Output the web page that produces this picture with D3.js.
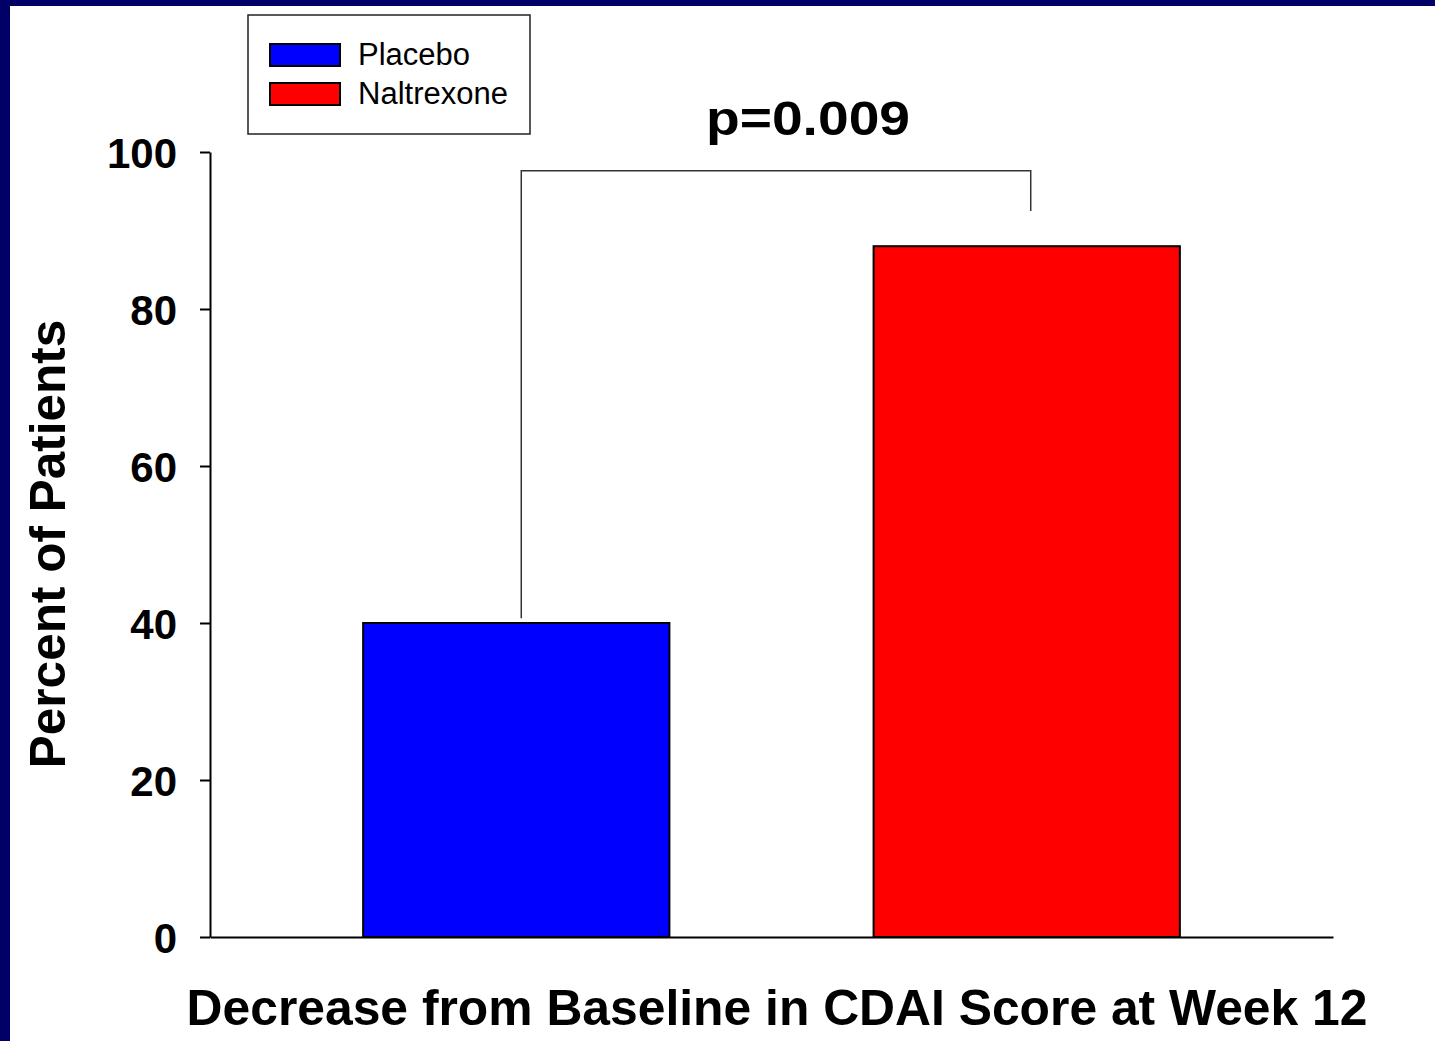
<!DOCTYPE html>
<html>
<head>
<meta charset="utf-8">
<script src="https://cdn.jsdelivr.net/npm/d3@7"></script>
<style>
  html, body { margin: 0; padding: 0; background: #ffffff; }
  svg { display: block; }
  text { font-family: Arial, "Liberation Sans", Helvetica, sans-serif; }
</style>
</head>
<body>
<script>
// Response at week 12 (percent of patients)
const groups = ["Placebo", "Naltrexone"];
const percents = [40, 88];
const colors = ["#0000ff", "#ff0000"];
const yTicks = [0, 20, 40, 60, 80, 100];

// Significance bracket: top level and the two leg ends (in percent units)
const bracketTop = [97.6];
const bracketLegEnds = [40.6, 92.5];
const pLabel = ["p=0.009"];

const W = 1435, H = 1041;
const svg = d3.select("body").append("svg")
  .attr("width", W).attr("height", H);

// slide background with navy frame on top and left
svg.append("rect").attr("x", 0).attr("y", 0).attr("width", W).attr("height", H).attr("fill", "#000066");
svg.append("rect").attr("x", 10).attr("y", 6).attr("width", W - 10).attr("height", H - 6).attr("fill", "#ffffff");

const x = d3.scaleBand().domain(groups).range([210, 1333]).paddingInner(0.4).paddingOuter(0.3);
const y = d3.scaleLinear().domain([0, 100]).range([937, 152]);

// bars
svg.append("g").selectAll("rect").data(groups).join("rect")
  .attr("x", d => x(d))
  .attr("y", (d, i) => y(percents[i]))
  .attr("width", x.bandwidth())
  .attr("height", (d, i) => y(0) - y(percents[i]))
  .attr("fill", (d, i) => colors[i])
  .attr("stroke", "#000")
  .attr("stroke-width", 2);

// y axis
const yAxis = svg.append("g").attr("transform", "translate(210,0)")
  .call(d3.axisLeft(y).tickValues(yTicks).tickFormat(d3.format("d"))
    .tickSizeInner(10).tickSizeOuter(0).tickPadding(23));
yAxis.select(".domain").attr("stroke", "#000").attr("stroke-width", 2);
yAxis.selectAll(".tick line").attr("stroke", "#000").attr("stroke-width", 2);
yAxis.selectAll(".tick text")
  .attr("font-size", 42).attr("font-weight", "bold").attr("fill", "#000")
  .attr("font-family", "Arial, 'Liberation Sans', sans-serif")
  .attr("dy", "0.36em");

// x axis (baseline only)
const xAxis = svg.append("g").attr("transform", "translate(0,937)")
  .call(d3.axisBottom(x).tickSize(0).tickSizeOuter(0).tickFormat(""));
xAxis.select(".domain").attr("stroke", "#000").attr("stroke-width", 2);

// significance bracket
const xl = x(groups[0]) + x.bandwidth() / 2 + 5;
const xr = x(groups[1]) + x.bandwidth() / 2 + 4;
svg.append("path")
  .attr("d", d3.line()([[xl, y(bracketLegEnds[0])], [xl, y(bracketTop[0])], [xr, y(bracketTop[0])], [xr, y(bracketLegEnds[1])]]))
  .attr("fill", "none").attr("stroke", "#333").attr("stroke-width", 1.5);

svg.append("text")
  .attr("x", 808).attr("y", 135)
  .attr("text-anchor", "middle")
  .attr("font-size", 48).attr("font-weight", "bold")
  .attr("textLength", 204).attr("lengthAdjust", "spacingAndGlyphs")
  .text(pLabel[0]);

// axis titles
svg.append("text")
  .attr("transform", "translate(65,544) rotate(-90)")
  .attr("text-anchor", "middle")
  .attr("font-size", 49.5).attr("font-weight", "bold")
  .text("Percent of Patients");

svg.append("text")
  .attr("x", 777).attr("y", 1025)
  .attr("text-anchor", "middle")
  .attr("font-size", 49.8).attr("font-weight", "bold")
  .text("Decrease from Baseline in CDAI Score at Week 12");

// legend
const legend = svg.append("g");
legend.append("rect").attr("x", 248).attr("y", 15).attr("width", 282).attr("height", 119)
  .attr("fill", "#fff").attr("stroke", "#222").attr("stroke-width", 1.5);
const legendRows = legend.selectAll("g.row").data(groups).join("g").attr("class", "row")
  .attr("transform", (d, i) => `translate(0,${i * 39})`);
legendRows.append("rect").attr("x", 270).attr("y", 44).attr("width", 70).attr("height", 22)
  .attr("fill", (d, i) => colors[i]).attr("stroke", "#000").attr("stroke-width", 2);
legendRows.append("text").attr("x", 358).attr("y", 65)
  .attr("font-size", 31).attr("fill", "#000")
  .text(d => d);
</script>
</body>
</html>
